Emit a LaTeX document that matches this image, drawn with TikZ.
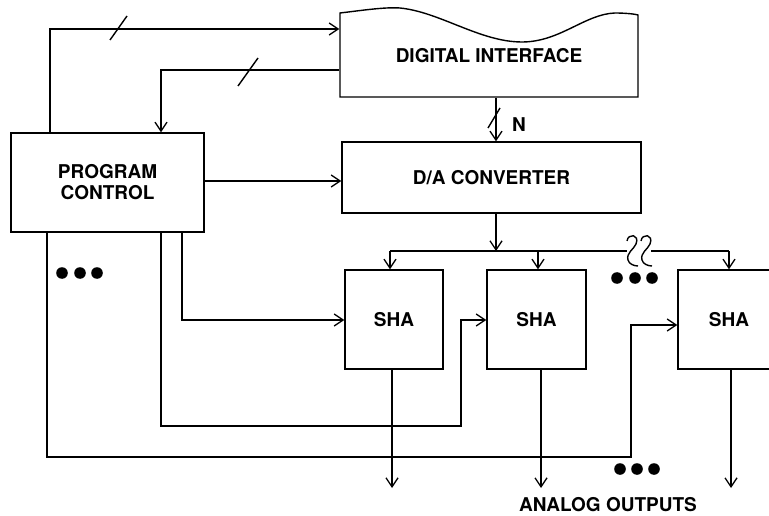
\documentclass[tikz,border=0pt]{standalone}
\usepackage{fontspec}
\setmainfont{TeX Gyre Heros}
\usetikzlibrary{arrows.meta}
\begin{document}
\begin{tikzpicture}[x=1pt,y=-1pt,line width=1.4pt,
    arr/.style={-{Straight Barb[length=9pt,width=12pt,line width=1.3pt]}},
    lbl/.style={font=\fontsize{19}{21}\selectfont\bfseries,align=center,inner sep=0pt},
    blk/.style={draw,rectangle,lbl}]
    \useasboundingbox (0,0) rectangle (769,516);
    \node[blk,minimum width=193,minimum height=99] (pc) at (107.5,182.5) {PROGRAM\\CONTROL};
    \node[blk,draw=none,minimum width=298,minimum height=82] (di) at (489,56) {DIGITAL INTERFACE};
    \draw (340,97) -- (340,13) .. controls (365,10) and (385,7) .. (400,8) .. controls (440,12) and (480,42) .. (522,42) .. controls (560,42) and (585,14) .. (615,13) .. controls (625,13) and (635,14) .. (638,15) -- (638,97) -- cycle;
    \node[blk,minimum width=299,minimum height=71] (da) at (491.5,177.5) {D/A CONVERTER};
    \node[blk,minimum width=98,minimum height=99] (sha1) at (394,319.5) {SHA};
    \node[blk,minimum width=99,minimum height=99] (sha2) at (536.5,319.5) {SHA};
    \node[blk,minimum width=102,minimum height=99] (sha3) at (729,319.5) {SHA};
    \coordinate (t1) at (50,29);
    \coordinate (t2) at (161,70);
    \coordinate (t3) at (0,181);
    \coordinate (t4) at (496,251);
    \draw[arr] (pc.north -| t1) |- (di.west |- t1);
    \draw[arr] (di.west |- t2) -| (pc.north -| t2);
    \draw[arr] (pc.east |- t3) -- (da.west |- t3);
    \draw[arr] (di.south -| t4) -- (da.north -| t4);
    \draw (110,40) -- (127,16);
    \draw (238,86) -- (258,58);
    \draw (488,128) -- (500,108);
    \node[lbl] (nlab) at (519,125) {N};
    \draw[arr] (da.south -| t4) -- (t4);
    \coordinate (b1) at (390,251);
    \coordinate (b2) at (538,251);
    \coordinate (b3) at (729,251);
    \draw (b1) -- (627,251);
    \draw (651,251) -- (b3);
    \draw (627,241) .. controls (628,233) and (640,234) .. (636,244) .. controls (634,249) and (626,253) .. (628,260) .. controls (629,264) and (634,266) .. (638,266);
    \draw (641,241) .. controls (642,233) and (654,234) .. (650,244) .. controls (648,249) and (640,253) .. (642,260) .. controls (643,264) and (648,266) .. (652,266);
    \draw[arr] (b1) -- (sha1.north -| b1);
    \draw[arr] (b2) -- (sha2.north -| b2);
    \draw[arr] (b3) -- (sha3.north);
    \coordinate (c1) at (182,320);
    \coordinate (c2) at (161,426);
    \coordinate (c2b) at (461,320);
    \coordinate (c3) at (47,457);
    \coordinate (c3b) at (631,325);
    \draw[arr] (pc.south -| c1) |- (sha1.west |- c1);
    \draw[arr] (pc.south -| c2) |- (c2b |- c2) -- (c2b) -- (sha2.west |- c2b);
    \draw[arr] (pc.south -| c3) |- (c3b |- c3) -- (c3b) -- (sha3.west |- c3b);
    \coordinate (o1) at (392,488);
    \coordinate (o2) at (541,488);
    \coordinate (o3) at (731,488);
    \draw[arr] (sha1.south -| o1) -- (o1);
    \draw[arr] (sha2.south -| o2) -- (o2);
    \draw[arr] (sha3.south -| o3) -- (o3);
    \foreach \x in {62,80,97} \fill (\x,273) circle (5.8);
    \foreach \x in {617,635,652} \fill (\x,278) circle (5.8);
    \foreach \x in {620,637,654} \fill (\x,469) circle (5.8);
    \node[lbl] (out) at (608,505) {ANALOG OUTPUTS};
\end{tikzpicture}
\end{document}
